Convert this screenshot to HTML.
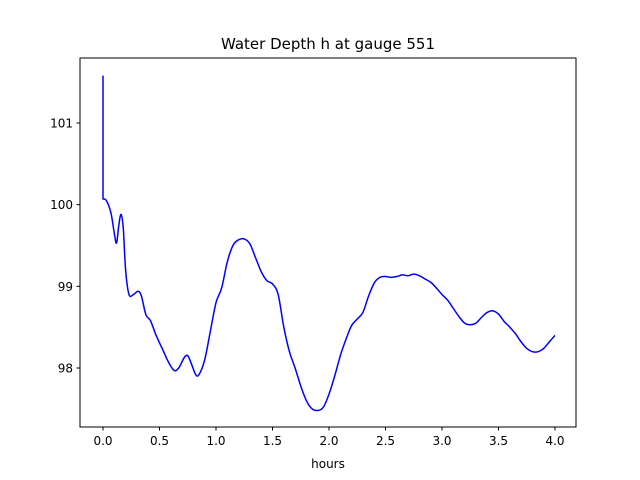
<!DOCTYPE html>
<html><head><meta charset="utf-8"><style>
body{margin:0;background:#fff;}
svg{display:block;font-family:"DejaVu Sans","Liberation Sans",sans-serif;}
</style></head><body>
<svg id="chart" width="640" height="480">
<rect width="640" height="480" fill="#fff"/>
<text x="328" y="49" text-anchor="middle" font-size="15">Water Depth h at gauge 551</text>
<text x="328" y="468" text-anchor="middle" font-size="12">hours</text>
<g id="ticks"></g>
<path id="line" fill="none" stroke="#0000ff" stroke-width="1.5" stroke-linejoin="round"/>
<rect x="80" y="58" width="496" height="369" fill="none" stroke="#000" stroke-width="1"/>
</svg>
<script>
const xs=[0,0,0.03,0.07,0.1,0.12,0.14,0.16,0.18,0.2,0.23,0.27,0.31,0.34,0.38,0.42,0.47,0.53,0.58,0.63,0.67,0.72,0.75,0.78,0.82,0.85,0.9,0.95,1.0,1.05,1.1,1.15,1.2,1.25,1.3,1.35,1.4,1.45,1.5,1.55,1.6,1.65,1.7,1.75,1.8,1.85,1.9,1.95,2.0,2.05,2.1,2.15,2.2,2.25,2.3,2.35,2.4,2.45,2.5,2.55,2.6,2.65,2.7,2.75,2.8,2.85,2.9,2.95,3.0,3.05,3.1,3.15,3.2,3.25,3.3,3.35,3.4,3.45,3.5,3.55,3.6,3.65,3.7,3.75,3.8,3.85,3.9,3.95,4.0];
const ys=[101.58,100.07,100.05,99.9,99.65,99.53,99.75,99.88,99.7,99.2,98.9,98.9,98.94,98.88,98.65,98.58,98.4,98.22,98.07,97.97,98.0,98.13,98.15,98.06,97.92,97.92,98.1,98.45,98.8,98.98,99.3,99.5,99.57,99.58,99.52,99.35,99.18,99.07,99.03,98.9,98.5,98.2,98.0,97.78,97.6,97.5,97.48,97.52,97.68,97.9,98.15,98.35,98.52,98.6,98.68,98.88,99.04,99.11,99.12,99.11,99.12,99.14,99.13,99.15,99.13,99.09,99.05,98.98,98.9,98.83,98.73,98.63,98.55,98.53,98.55,98.62,98.68,98.7,98.66,98.57,98.5,98.42,98.32,98.24,98.2,98.2,98.24,98.32,98.4];
const xTicks=[0,0.5,1,1.5,2,2.5,3,3.5,4];
const xTickLabels=["0.0","0.5","1.0","1.5","2.0","2.5","3.0","3.5","4.0"];
const yTicks=[98,99,100,101];
const yTickLabels=["98","99","100","101"];
function sx(v){return 103+v*113;}
function sy(v){return 368-(v-98)*81.67;}
const NS="http://www.w3.org/2000/svg";
const g=document.getElementById('ticks');
function mk(t,a){const e=document.createElementNS(NS,t);for(const k in a)e.setAttribute(k,a[k]);return e;}
xTicks.forEach((v,i)=>{
 const l=mk('line',{x1:sx(v),x2:sx(v),y1:427,y2:430.5,stroke:'#000'});
 
 
 g.appendChild(l);
 const t=mk('text',{x:sx(v),y:445,'text-anchor':'middle','font-size':'12'});
 t.textContent=xTickLabels[i];
 
 
 g.appendChild(t);
});
yTicks.forEach((v,i)=>{
 const l=mk('line',{x1:76.5,x2:80,y1:sy(v),y2:sy(v),stroke:'#000'});
 
 
 g.appendChild(l);
 const t=mk('text',{x:73,y:sy(v)+4.5,'text-anchor':'end','font-size':'12'});
 t.textContent=yTickLabels[i];
 
 
 g.appendChild(t);
});
const P=xs.map((x,i)=>[sx(x),sy(ys[i])]);
let d='M'+P[0][0].toFixed(2)+','+P[0][1].toFixed(2)+'L'+P[1][0].toFixed(2)+','+P[1][1].toFixed(2);
for(let i=1;i<P.length-1;i++){
 const p0=P[Math.max(1,i-1)],p1=P[i],p2=P[i+1],p3=P[Math.min(P.length-1,i+2)];
 const c1x=p1[0]+(p2[0]-p0[0])/6,c1y=p1[1]+(p2[1]-p0[1])/6;
 const c2x=p2[0]-(p3[0]-p1[0])/6,c2y=p2[1]-(p3[1]-p1[1])/6;
 d+='C'+c1x.toFixed(2)+','+c1y.toFixed(2)+' '+c2x.toFixed(2)+','+c2y.toFixed(2)+' '+p2[0].toFixed(2)+','+p2[1].toFixed(2);
}
document.getElementById('line').setAttribute('d',d);
</script>
</body></html>
